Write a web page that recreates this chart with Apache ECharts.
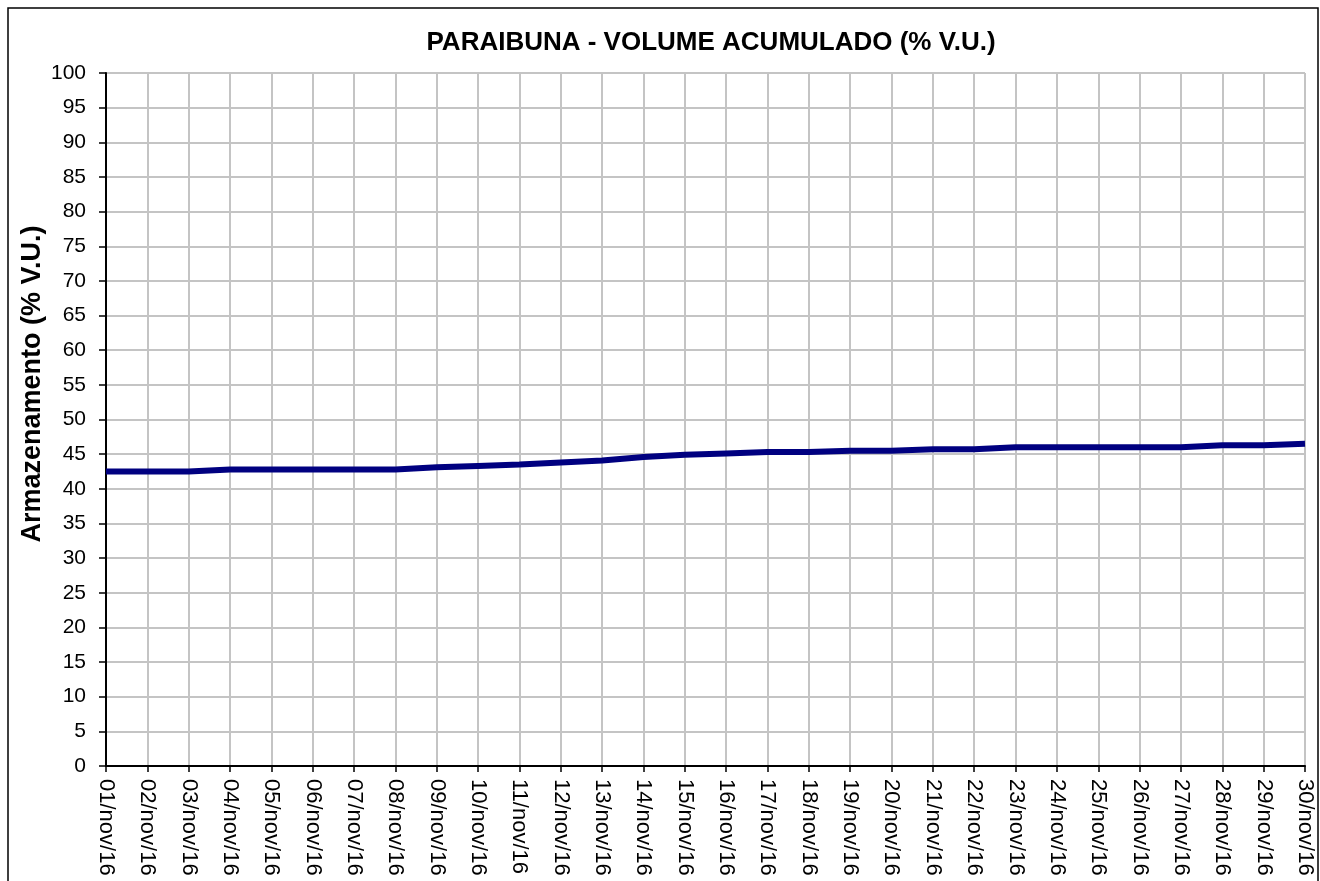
<!DOCTYPE html>
<html>
<head>
<meta charset="utf-8">
<title>Paraibuna</title>
<script src="https://cdn.jsdelivr.net/npm/echarts@6/dist/echarts.min.js"></script>
<style>
html, body {
	margin: 0;
	padding: 0;
	background: #fff;
}
#chart {
	width: 1320px;
	height: 881px;
}
</style>
</head>
<body>
<div id="chart"></div>
<script type="text/javascript">
    // dias de novembro/2016
    var dias = ['01/nov/16', '02/nov/16', '03/nov/16', '04/nov/16', '05/nov/16', '06/nov/16',
        '07/nov/16', '08/nov/16', '09/nov/16', '10/nov/16', '11/nov/16', '12/nov/16',
        '13/nov/16', '14/nov/16', '15/nov/16', '16/nov/16', '17/nov/16', '18/nov/16',
        '19/nov/16', '20/nov/16', '21/nov/16', '22/nov/16', '23/nov/16', '24/nov/16',
        '25/nov/16', '26/nov/16', '27/nov/16', '28/nov/16', '29/nov/16', '30/nov/16'];

    // volume acumulado (% V.U.)
    var volume = [42.5, 42.5, 42.5, 42.8, 42.8, 42.8, 42.8, 42.8, 43.1, 43.3,
        43.5, 43.8, 44.1, 44.6, 44.9, 45.1, 45.3, 45.3, 45.5, 45.5,
        45.7, 45.7, 46.0, 46.0, 46.0, 46.0, 46.0, 46.3, 46.3, 46.5];

    var fonte = 'Arial, "Liberation Sans", sans-serif';

    var myChart = echarts.init(document.getElementById('chart'));

    var option = {
        animation: false,
        title: {
            text: 'PARAIBUNA - VOLUME ACUMULADO (% V.U.)',
            left: 706,
            top: 25,
            textAlign: 'center',
            textStyle: {
                fontFamily: fonte,
                fontSize: 26,
                fontWeight: 'bold',
                color: '#000'
            }
        },
        graphic: [{
            type: 'rect',
            shape: {x: 8, y: 8, width: 1310, height: 900},
            style: {fill: 'none', stroke: '#000', lineWidth: 1.5},
            silent: true
        }, {
            // titulo do eixo y (no original fica um pouco acima do centro)
            type: 'text',
            x: 33,
            y: 384,
            rotation: Math.PI / 2,
            style: {
                text: 'Armazenamento (% V.U.)',
                font: 'bold 27px ' + fonte,
                fill: '#000',
                textAlign: 'center',
                textVerticalAlign: 'middle'
            },
            silent: true
        }],
        grid: {
            left: 106,
            right: 15,
            top: 73,
            bottom: 115,
            show: false
        },
        xAxis: {
            type: 'category',
            data: dias,
            boundaryGap: false,
            axisLine: {lineStyle: {color: '#000', width: 2}},
            axisTick: {show: true, length: 6, inside: false, lineStyle: {color: '#000', width: 1.5}},
            axisLabel: {
                interval: 0,
                rotate: -90,
                margin: 13,
                fontFamily: fonte,
                fontSize: 22,
                color: '#000'
            },
            splitLine: {show: true, lineStyle: {color: '#c4c4c4', width: 2}}
        },
        yAxis: {
            type: 'value',
            min: 0,
            max: 100,
            interval: 5,
            axisLine: {show: true, lineStyle: {color: '#000', width: 2}},
            axisTick: {show: true, length: 7, lineStyle: {color: '#000', width: 1.5}},
            axisLabel: {
                margin: 20,
                fontFamily: fonte,
                fontSize: 21,
                color: '#000'
            },
            splitLine: {show: true, lineStyle: {color: '#c4c4c4', width: 2}}
        },
        series: [{
            type: 'line',
            data: volume,
            showSymbol: false,
            lineStyle: {color: '#000080', width: 6},
            itemStyle: {color: '#000080'}
        }]
    };

    myChart.setOption(option);
</script>
</body>
</html>
